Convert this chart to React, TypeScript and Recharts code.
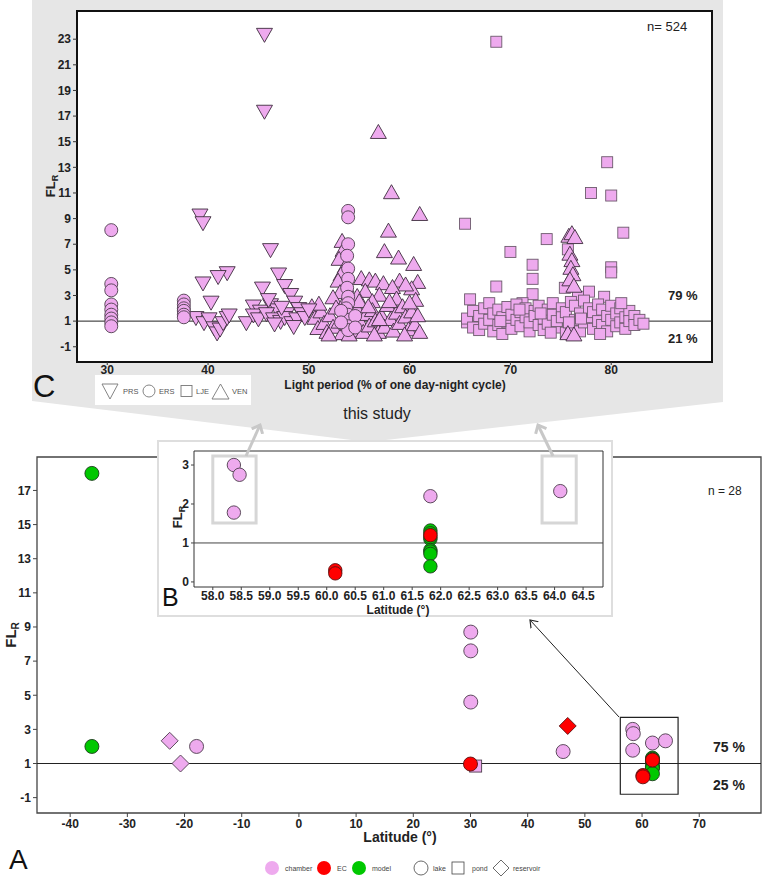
import React from 'react';
import { ScatterChart, Scatter, XAxis, YAxis, ReferenceLine, ReferenceArea } from 'recharts';

const FONT = '"Liberation Sans", Arial, Helvetica, sans-serif';
const PINK = '#eeaaee';
const RED = '#ff0000';
const GREEN = '#00c800';

// ---------- Panel C : FL_R vs light period ----------
const C_X_TICKS = [30, 40, 50, 60, 70, 80];
const C_Y_TICKS = [-1, 1, 3, 5, 7, 9, 11, 13, 15, 17, 19, 21, 23];

const PRS: [number, number][] = [
  [45.6, 23.3], [45.6, 17.3], [39.2, 9.2], [39.5, 8.6], [46.2, 6.5], [41.9, 4.7], [41.0, 4.4], [47.0, 4.6],
  [39.5, 3.9], [45.4, 3.5], [47.6, 3.7], [48.2, 3.0], [40.3, 2.4], [44.5, 2.1], [46.2, 2.2], [48.6, 2.4],
  [49.0, 1.9], [45.2, 1.7], [46.9, 1.8], [47.8, 1.5], [49.3, 1.5], [38.8, 1.2], [39.6, 0.8], [40.1, 1.1],
  [40.6, 0.4], [40.9, 0.0], [41.2, 0.3], [41.5, 0.8], [41.9, 1.2], [43.8, 0.8], [44.5, 1.4], [45.0, 1.1],
  [45.8, 1.5], [46.5, 1.1], [47.2, 0.9], [47.6, 1.2], [48.3, 0.8], [48.8, 1.1], [49.6, 1.2], [42.1, 1.4],
  [46.0, 2.6], [47.3, 2.0], [50.0, 1.8], [46.6, 0.7], [48.5, 0.5],
];

const ERS: [number, number][] = [
  [30.4, 8.1], [30.4, 3.9], [30.4, 3.4], [30.4, 2.3], [30.4, 1.9], [30.4, 1.5], [30.4, 1.2], [30.4, 0.9], [30.4, 0.6],
  [37.6, 2.6], [37.6, 2.3], [37.6, 2.0], [37.6, 1.8], [37.6, 1.5], [37.6, 1.3],
  [53.9, 9.6], [53.9, 9.1], [53.9, 7.0], [53.8, 6.1], [53.9, 5.1], [53.9, 4.3], [53.8, 3.6], [53.9, 2.9],
  [53.9, 2.4], [53.7, 2.0], [53.9, 1.5], [53.9, 1.1], [53.9, 0.6], [53.9, 0.3], [53.2, 1.8], [53.2, 0.9],
  [54.6, 1.4], [54.6, 0.5],
];

const LJE: [number, number][] = [
  [68.6, 22.8], [79.6, 13.4], [78.0, 11.0], [80.0, 10.8], [65.5, 8.6], [81.2, 7.9], [73.6, 7.4], [70.0, 6.4],
  [75.7, 6.6], [72.2, 5.4], [72.2, 4.3], [80.0, 5.2], [80.0, 4.8], [68.6, 3.7], [66.0, 2.7], [72.2, 3.1],
  [75.4, 3.6], [77.8, 3.3], [76.7, 2.9], [71.2, 2.4], [79.3, 2.9],
  [65.7, 0.9], [65.7, 1.2], [66.3, 0.5], [66.3, 1.8], [66.9, 1.4], [66.9, 0.3], [67.4, 2.0], [67.4, 0.8],
  [67.9, 1.1], [67.9, 2.4], [68.3, 0.2], [68.3, 1.6], [68.8, 1.9], [68.8, 0.7], [69.2, 1.3], [69.2, 0.0],
  [69.7, 2.1], [69.7, 0.9], [70.1, 1.5], [70.1, 0.4], [70.6, 2.3], [70.6, 1.1], [71.0, 0.6], [71.0, 1.7],
  [71.5, 1.3], [71.5, 2.0], [71.9, 0.2], [71.9, 0.9], [72.4, 1.8], [72.4, 1.4], [72.8, 0.7], [72.8, 2.2],
  [73.3, 1.2], [73.3, 0.3], [73.7, 1.9], [73.7, 0.8], [74.2, 1.5], [74.2, 2.4], [74.6, 0.5], [74.6, 1.0],
  [75.1, 2.0], [75.1, 1.3], [75.5, 0.1], [75.5, 1.7], [76.0, 2.5], [76.0, 0.6], [76.4, 1.1], [76.4, 2.2],
  [76.9, 0.2], [76.9, 1.6], [77.3, 2.6], [77.3, 0.9], [77.8, 1.3], [77.8, 2.0], [78.2, 0.4], [78.2, 1.7],
  [78.7, 2.3], [78.7, 1.0], [79.1, 0.7], [79.1, 1.9], [79.6, 1.4], [79.6, 0.2], [80.0, 2.2], [80.0, 1.1],
  [80.5, 0.6], [80.5, 1.6], [80.9, 2.0], [80.9, 0.9], [81.4, 1.3], [81.4, 0.4], [81.8, 1.8], [81.8, 1.0],
  [82.3, 1.4], [82.3, 0.7], [82.8, 1.1], [83.2, 0.8], [69.0, 1.0], [74.0, 0.1], [77.0, 1.2], [78.9, 0.0],
  [81.0, 2.4], [73.0, 1.6], [70.9, 1.9], [75.8, 0.9],
];

const VEN: [number, number][] = [
  [56.9, 15.8], [58.2, 11.1], [61.0, 9.4], [57.9, 8.1], [57.5, 6.5], [58.9, 6.0], [60.4, 5.5], [60.8, 4.1],
  [53.3, 7.3], [53.4, 6.6], [53.0, 5.9], [53.6, 5.3], [53.2, 4.7], [52.9, 4.2], [53.7, 3.8], [53.1, 3.3],
  [55.2, 4.4], [56.0, 4.3], [56.6, 4.2], [57.4, 4.0], [59.0, 4.2], [60.2, 3.6], [59.6, 3.9], [58.3, 3.7],
  [55.6, 3.4], [54.8, 3.0], [57.0, 3.1], [58.7, 2.8], [60.6, 2.7], [56.3, 2.6], [54.3, 2.3], [52.4, 2.9],
  [50.3, 2.2], [50.6, 1.3], [50.9, 0.5], [51.2, 1.8], [51.5, 0.9], [51.8, 0.2], [52.1, 1.5], [52.4, 0.6],
  [52.7, 2.1], [53.0, 1.0], [53.3, 0.1], [53.6, 1.7], [53.9, 0.8], [54.2, 1.3], [54.5, 0.3], [54.8, 2.0],
  [55.1, 1.0], [55.4, 0.2], [55.7, 1.6], [56.0, 0.7], [56.3, 1.9], [56.6, 1.1], [56.9, 0.2], [57.2, 1.5],
  [57.5, 0.6], [57.8, 2.3], [58.1, 1.2], [58.4, 0.3], [58.7, 1.7], [59.0, 0.9], [59.3, 2.2], [59.6, 1.4],
  [59.9, 0.4], [60.2, 1.8], [60.5, 0.8], [60.8, 1.5], [61.0, 0.2], [51.0, 2.4], [52.0, 0.0], [55.0, 2.6],
  [56.5, 0.0], [58.0, 2.6], [59.5, 0.0], [60.0, 2.5], [54.0, 0.0], [57.0, 1.2], [55.9, 2.2], [53.5, 2.5],
  [75.8, 7.7], [76.1, 7.9], [76.4, 7.6], [75.9, 6.3], [76.1, 5.8], [76.0, 5.2], [76.2, 4.7], [75.9, 4.3],
  [76.3, 3.8], [75.7, 0.1], [76.3, 0.0],
];

// ---------- Panels A / B : FL_R vs latitude ----------
const A_X_TICKS = [-40, -30, -20, -10, 0, 10, 20, 30, 40, 50, 60, 70];
const A_Y_TICKS = [-1, 1, 3, 5, 7, 9, 11, 13, 15, 17];
const B_X_TICKS = [58.0, 58.5, 59.0, 59.5, 60.0, 60.5, 61.0, 61.5, 62.0, 62.5, 63.0, 63.5, 64.0, 64.5];
const B_Y_TICKS = [0, 1, 2, 3];

const lakeChamber: [number, number][] = [
  [-17.9, 2.0], [30.05, 8.7], [30.05, 7.6], [30.05, 4.6], [46.2, 1.7],
  [58.37, 3.0], [58.47, 2.75], [58.37, 1.78], [61.82, 2.2], [64.1, 2.33],
];
const lakeEC: [number, number][] = [[30.0, 0.97], [60.15, 0.3], [60.15, 0.22], [61.82, 1.2]];
const lakeModel: [number, number][] = [
  [-36.2, 18.0], [-36.2, 2.0], [61.82, 1.32], [61.82, 1.25], [61.82, 1.1], [61.82, 1.15],
  [61.82, 0.82], [61.82, 0.78], [61.82, 0.72], [61.82, 0.4],
];
const pondChamber: [number, number][] = [[30.9, 0.85]];
const reservoirChamber: [number, number][] = [[-22.6, 2.33], [-20.7, 1.0]];
const reservoirEC: [number, number][] = [[47.0, 3.2]];

const toPts = (a: [number, number][]) => a.map(([x, y]) => ({ x, y }));
const inB = (a: [number, number][]) => toPts(a.filter(([x]) => x > 57.5));

// ---------- shapes ----------
const circ = (r: number, fill: string, stroke: string) => (p: any) =>
  <circle cx={p.cx} cy={p.cy} r={r} fill={fill} stroke={stroke} strokeWidth={0.9} />;
const sq = (s: number, fill: string, stroke: string) => (p: any) =>
  <rect x={p.cx - s / 2} y={p.cy - s / 2} width={s} height={s} fill={fill} stroke={stroke} strokeWidth={0.9} />;
const triDown = (w: number, h: number, fill: string, stroke: string) => (p: any) =>
  <path d={`M${p.cx - w / 2},${p.cy - h / 2}L${p.cx + w / 2},${p.cy - h / 2}L${p.cx},${p.cy + h / 2}Z`} fill={fill} stroke={stroke} strokeWidth={0.9} />;
const triUp = (w: number, h: number, fill: string, stroke: string) => (p: any) =>
  <path d={`M${p.cx - w / 2},${p.cy + h / 2}L${p.cx + w / 2},${p.cy + h / 2}L${p.cx},${p.cy - h / 2}Z`} fill={fill} stroke={stroke} strokeWidth={0.9} />;
const diam = (h: number, fill: string, stroke: string) => (p: any) =>
  <path d={`M${p.cx},${p.cy - h}L${p.cx + h},${p.cy}L${p.cx},${p.cy + h}L${p.cx - h},${p.cy}Z`} fill={fill} stroke={stroke} strokeWidth={0.9} />;

const tickStyle = (size: number) => ({ fontSize: size, fontWeight: 700, fill: '#222', fontFamily: FONT });

const abs = (left: number, top: number): React.CSSProperties => ({ position: 'absolute', left, top });

export default function App() {
  const C_XD: [number, number] = [27, 90];
  const C_YD: [number, number] = [-2.19, 25.2];
  const A_XD: [number, number] = [-45.8, 80.8];
  const A_YD: [number, number] = [-1.9, 18.96];
  const B_XD: [number, number] = [57.67, 64.85];
  const B_YD: [number, number] = [-0.13, 3.36];

  return (
    <div style={{ position: 'absolute', left: 0, top: 0, width: 762, height: 877, background: '#fff', overflow: 'hidden', fontFamily: FONT }}>
      {/* gray funnel background */}
      <svg width={762} height={877} style={abs(0, 0)}>
        <polygon points="32,0 723,0 723,402 368,442 32,401" fill="#e6e6e6" />
      </svg>
      {/* C plot background */}
      <div style={{ ...abs(77, 11), width: 635, height: 351, background: '#fff' }} />

      {/* Panel C */}
      <div style={abs(0, 0)}>
        <ScatterChart width={762} height={420} margin={{ top: 11, right: 50, bottom: 28, left: 37 }}>
          <XAxis type="number" dataKey="x" domain={C_XD} ticks={C_X_TICKS} interval={0} allowDataOverflow
            axisLine={false} tickLine={{ stroke: '#333' }} tickSize={3} tickMargin={0} height={30} tick={tickStyle(12)} />
          <YAxis type="number" dataKey="y" domain={C_YD} ticks={C_Y_TICKS} interval={0} allowDataOverflow
            axisLine={false} tickLine={{ stroke: '#333' }} tickSize={4} width={40} tick={tickStyle(12)} />
          <ReferenceLine y={1} stroke="#222" strokeWidth={1} />
          <Scatter data={toPts(LJE)} shape={sq(11, PINK, '#6d5a6d')} isAnimationActive={false} />
          <Scatter data={toPts(VEN)} shape={triUp(16, 14, PINK, '#3d2d3d')} isAnimationActive={false} />
          <Scatter data={toPts(PRS)} shape={triDown(16, 14, PINK, '#3d2d3d')} isAnimationActive={false} />
          <Scatter data={toPts(ERS)} shape={circ(6.5, PINK, '#4d3d4d')} isAnimationActive={false} />
          <ReferenceArea x1={C_XD[0]} x2={C_XD[1]} y1={C_YD[0]} y2={C_YD[1]} fill="none" fillOpacity={0} stroke="#111" strokeWidth={2} />
        </ScatterChart>
      </div>

      {/* Panel A */}
      <div style={abs(0, 440)}>
        <ScatterChart width={762} height={437} margin={{ top: 17, right: 1, bottom: 34, left: 2 }}>
          <XAxis type="number" dataKey="x" domain={A_XD} ticks={A_X_TICKS} interval={0} allowDataOverflow
            axisLine={false} tickLine={{ stroke: '#444' }} tickSize={4} height={30} tick={tickStyle(12)} />
          <YAxis type="number" dataKey="y" domain={A_YD} ticks={A_Y_TICKS} interval={0} allowDataOverflow
            axisLine={false} tickLine={{ stroke: '#444' }} tickSize={4} width={35} tick={tickStyle(12)} />
          <ReferenceLine y={1} stroke="#222" strokeWidth={1} />
          <ReferenceArea x1={56.2} x2={66.3} y1={-0.8} y2={3.7} fill="none" fillOpacity={0} stroke="#222" strokeWidth={1.2} />
          <Scatter data={toPts(lakeChamber)} shape={circ(7, PINK, '#4d3d4d')} isAnimationActive={false} />
          <Scatter data={toPts(pondChamber)} shape={sq(12, PINK, '#4d3d4d')} isAnimationActive={false} />
          <Scatter data={toPts(reservoirChamber)} shape={diam(8.5, PINK, '#4d3d4d')} isAnimationActive={false} />
          <Scatter data={toPts(lakeModel)} shape={circ(7, GREEN, '#1d3d1d')} isAnimationActive={false} />
          <Scatter data={toPts(lakeEC)} shape={circ(7, RED, '#5a1010')} isAnimationActive={false} />
          <Scatter data={toPts(reservoirEC)} shape={diam(8.5, RED, '#5a1010')} isAnimationActive={false} />
          <ReferenceArea x1={A_XD[0]} x2={A_XD[1]} y1={A_YD[0]} y2={A_YD[1]} fill="none" fillOpacity={0} stroke="#444" strokeWidth={1.3} />
        </ScatterChart>
      </div>

      {/* Panel B inset */}
      <div style={{ ...abs(157, 440), width: 456, height: 177, background: '#fff', border: '2px solid #dedede', boxSizing: 'border-box' }} />
      <div style={abs(157, 440)}>
        <ScatterChart width={456} height={177} margin={{ top: 11, right: 10, bottom: 0, left: 2 }}>
          <XAxis type="number" dataKey="x" domain={B_XD} ticks={B_X_TICKS} interval={0} allowDataOverflow
            axisLine={false} tickLine={{ stroke: '#444' }} tickSize={3} tickMargin={1} height={30} tick={tickStyle(12)}
            tickFormatter={(v: number) => v.toFixed(1)} />
          <YAxis type="number" dataKey="y" domain={B_YD} ticks={B_Y_TICKS} interval={0} allowDataOverflow
            axisLine={false} tickLine={{ stroke: '#444' }} tickSize={3} width={35} tick={tickStyle(12)} />
          <ReferenceLine y={1} stroke="#444" strokeWidth={1} />
          <ReferenceArea x1={58.0} x2={58.76} y1={1.51} y2={3.23} fill="none" fillOpacity={0} stroke="#d6d6d6" strokeWidth={3} />
          <ReferenceArea x1={63.78} x2={64.38} y1={1.51} y2={3.23} fill="none" fillOpacity={0} stroke="#d6d6d6" strokeWidth={3} />
          <Scatter data={inB(lakeChamber)} shape={circ(6.7, PINK, '#4d3d4d')} isAnimationActive={false} />
          <Scatter data={inB(lakeModel)} shape={circ(6.7, GREEN, '#1d3d1d')} isAnimationActive={false} />
          <Scatter data={inB(lakeEC)} shape={circ(6.7, RED, '#5a1010')} isAnimationActive={false} />
          <ReferenceArea x1={B_XD[0]} x2={B_XD[1]} y1={B_YD[0]} y2={B_YD[1]} fill="none" fillOpacity={0} stroke="#333" strokeWidth={1} />
        </ScatterChart>
      </div>

      {/* overlay: texts, arrows, legends */}
      <svg width={762} height={877} style={{ ...abs(0, 0), pointerEvents: 'none' }} fontFamily={FONT}>
        <defs>
          <marker id="grayHead" markerUnits="userSpaceOnUse" markerWidth={16} markerHeight={16} refX={8} refY={8} orient="auto">
            <path d="M1,2 L8,8 L1,14" fill="none" stroke="#c8c8c8" strokeWidth={3} />
          </marker>
          <marker id="blackHead" markerUnits="userSpaceOnUse" markerWidth={14} markerHeight={14} refX={7} refY={7} orient="auto">
            <path d="M0,2 L7,7 L0,12" fill="none" stroke="#222" strokeWidth={1.2} />
          </marker>
        </defs>

        {/* Panel C texts */}
        <text x={647} y={31} fontSize={13} fill="#222">n= 524</text>
        <text x={668} y={300} fontSize={13} fontWeight={700} fill="#222">79 %</text>
        <text x={668} y={343} fontSize={13} fontWeight={700} fill="#222">21 %</text>
        <text transform="translate(55,186) rotate(-90)" textAnchor="middle" fontSize={13} fontWeight={700} fill="#222">
          FL<tspan fontSize={9} dy={3}>R</tspan>
        </text>
        <text x={395} y={389} textAnchor="middle" fontSize={12} fontWeight={700} fill="#222">Light period (% of one day-night cycle)</text>
        <text x={33} y={397} fontSize={31} fill="#111">C</text>
        <text x={377} y={419} textAnchor="middle" fontSize={16} fill="#222">this study</text>

        {/* C legend */}
        <rect x={95} y={375} width={156} height={30} fill="#fff" />
        <path d="M102,384 L118,384 L110,399 Z" fill="#fff" stroke="#777" strokeWidth={0.9} />
        <text x={123} y={394} fontSize={7.5} fill="#555">PRS</text>
        <circle cx={149} cy={391} r={6} fill="#fff" stroke="#777" strokeWidth={0.9} />
        <text x={159} y={394} fontSize={7.5} fill="#555">ERS</text>
        <rect x={181} y={385.5} width={11} height={11} fill="#fff" stroke="#777" strokeWidth={0.9} />
        <text x={196} y={394} fontSize={7.5} fill="#555">LJE</text>
        <path d="M212,399 L229,399 L220.5,384 Z" fill="#fff" stroke="#777" strokeWidth={0.9} />
        <text x={232} y={394} fontSize={7.5} fill="#555">VEN</text>

        {/* gray arrows from inset boxes */}
        <line x1={246} y1={456} x2={260} y2={425} stroke="#c8c8c8" strokeWidth={3} markerEnd="url(#grayHead)" />
        <line x1={553} y1={456} x2={538} y2={425} stroke="#c8c8c8" strokeWidth={3} markerEnd="url(#grayHead)" />

        {/* Panel B texts */}
        <text transform="translate(182,517) rotate(-90)" textAnchor="middle" fontSize={13} fontWeight={700} fill="#222">
          FL<tspan fontSize={9} dy={3}>R</tspan>
        </text>
        <text x={398} y={614} textAnchor="middle" fontSize={12} fontWeight={700} fill="#222">Latitude  (°)</text>
        <text x={162} y={606} fontSize={25} fill="#111">B</text>

        {/* black arrow from A box to B */}
        <line x1={619} y1={717} x2={530} y2={620} stroke="#222" strokeWidth={1} markerEnd="url(#blackHead)" />

        {/* Panel A texts */}
        <text x={708} y={495} fontSize={12} fill="#222">n = 28</text>
        <text x={713} y={752} fontSize={14} fontWeight={700} fill="#222">75 %</text>
        <text x={713} y={790} fontSize={14} fontWeight={700} fill="#222">25 %</text>
        <text transform="translate(16,635) rotate(-90)" textAnchor="middle" fontSize={15} fontWeight={700} fill="#222">
          FL<tspan fontSize={10} dy={3}>R</tspan>
        </text>
        <text x={400} y={842} textAnchor="middle" fontSize={14} fontWeight={700} fill="#222">Latitude  (°)</text>
        <text x={9} y={869} fontSize={28} fill="#111">A</text>

        {/* A legend */}
        <circle cx={272} cy={868} r={7} fill={PINK} />
        <text x={285} y={870.5} fontSize={7} fill="#444">chamber</text>
        <circle cx={324} cy={868} r={7} fill={RED} />
        <text x={337} y={870.5} fontSize={7} fill="#444">EC</text>
        <circle cx={359} cy={868} r={7} fill={GREEN} />
        <text x={372} y={870.5} fontSize={7} fill="#444">model</text>
        <circle cx={421} cy={868} r={7} fill="#fff" stroke="#444" strokeWidth={0.8} />
        <text x={433} y={870.5} fontSize={7} fill="#444">lake</text>
        <rect x={452} y={862} width={12} height={12} fill="#fff" stroke="#444" strokeWidth={0.8} />
        <text x={472} y={870.5} fontSize={7} fill="#444">pond</text>
        <path d="M501,860 L509,868 L501,876 L493,868 Z" fill="#fff" stroke="#444" strokeWidth={0.8} />
        <text x={513} y={870.5} fontSize={7} fill="#444">reservoir</text>
      </svg>
    </div>
  );
}
